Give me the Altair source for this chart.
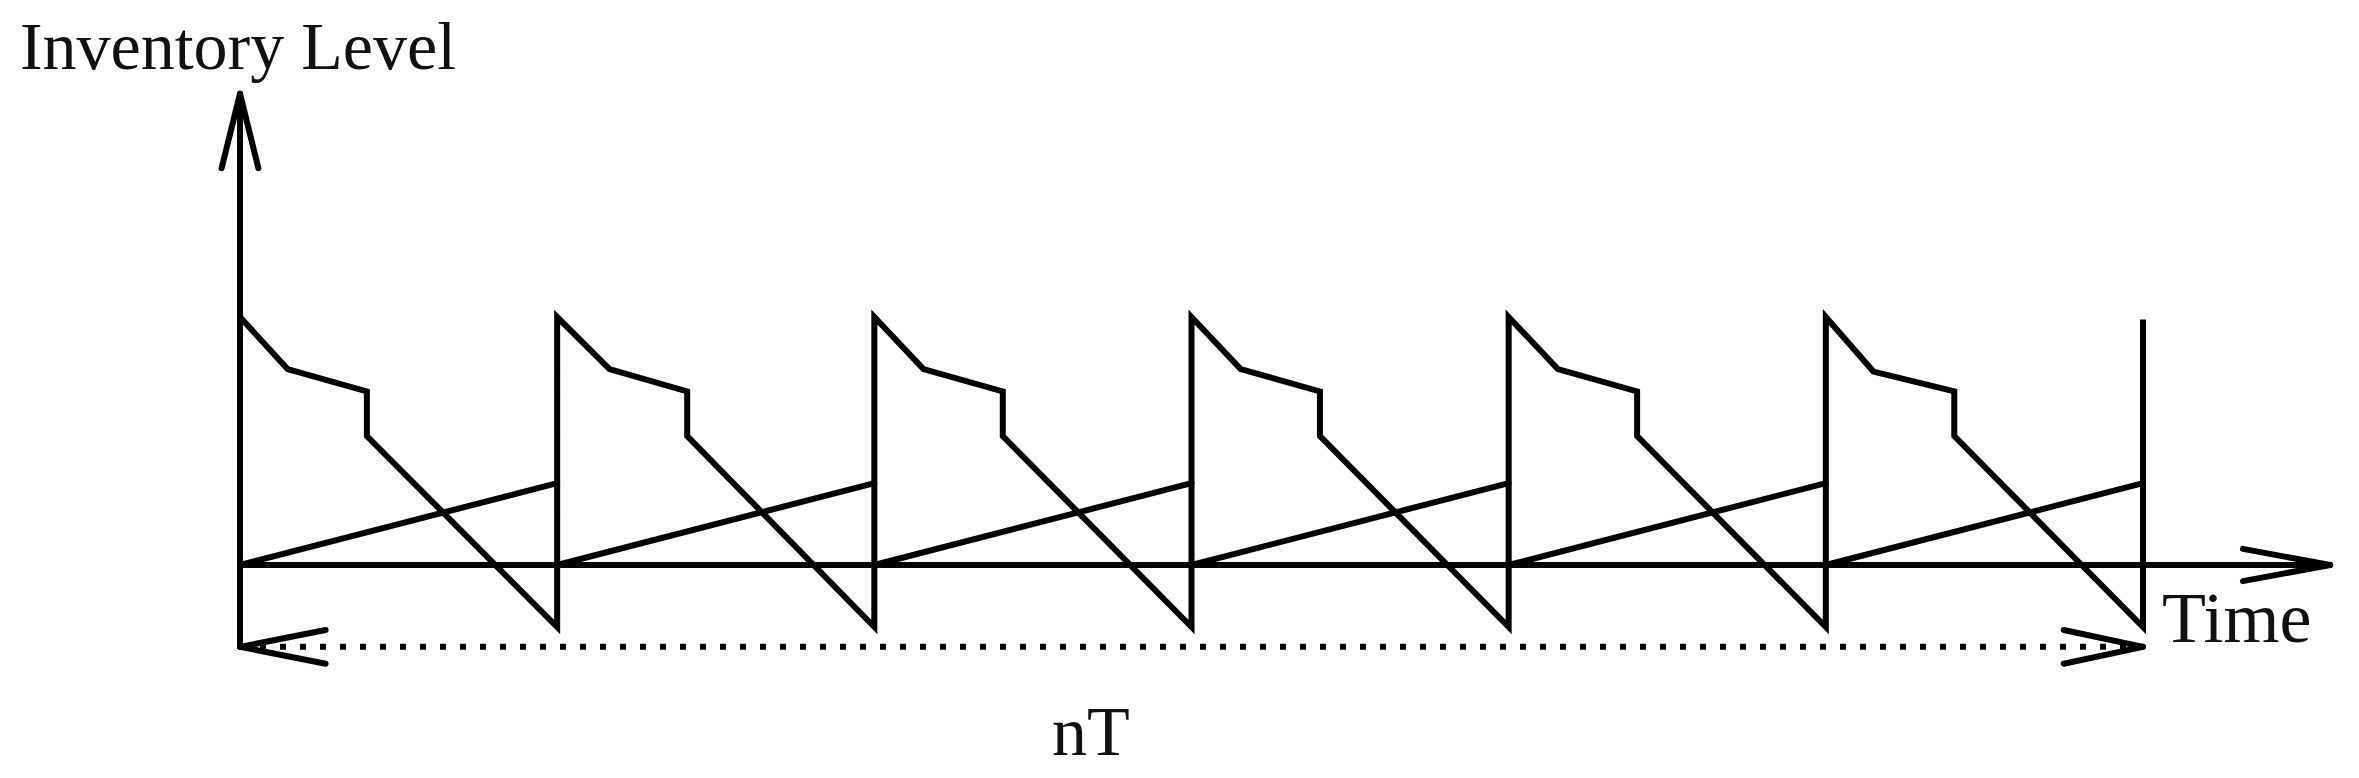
import altair as alt
import pandas as pd

# ---- data (time in cycles T, inventory level in relative units; order quantity peak = 100)
saw_time = [0.0, 0.15, 0.40, 0.40, 1.0,
            1.0, 1.165, 1.41, 1.41, 2.0,
            2.0, 2.155, 2.405, 2.405, 3.0,
            3.0, 3.155, 3.405, 3.405, 4.0,
            4.0, 4.155, 4.405, 4.405, 5.0,
            5.0, 5.15, 5.405, 5.405, 6.0,
            6.0]
saw_level = [100, 79, 70, 52, -25,
             100, 79, 70, 52, -25,
             100, 79, 70, 52, -25,
             100, 79, 70, 52, -25,
             100, 79, 70, 52, -25,
             100, 78, 70, 52, -25,
             99]

ramp_start = [0, 1, 2, 3, 4, 5]
ramp_end = [1, 2, 3, 4, 5, 6]
ramp_start_level = [0, 0, 0, 0, 0, 0]
ramp_end_level = [33, 33, 33, 33, 33, 33]

# axes drawn as arrows (start/end in data units)
axis_x = [0.0, 0.0]
axis_y = [-33.0, 0.0]
axis_x2 = [0.0, 6.59]
axis_y2 = [190.0, 0.0]

# open arrowheads: tip and the two barbs
head_tip_x = [0.0, 0.0, 6.59, 6.59]
head_tip_y = [190.0, 190.0, 0.0, 0.0]
head_barb_x = [-0.058, 0.058, 6.315, 6.315]
head_barb_y = [160.0, 160.0, 6.5, -6.5]

# horizon nT: dotted double arrow
span_start, span_end, span_level = 0.0, 6.0, -33.0
span_head_tip_x = [0.0, 0.0, 6.0, 6.0]
span_head_barb_x = [0.27, 0.27, 5.75, 5.75]
span_head_barb_y = [-26.2, -39.8, -26.2, -39.8]

labels = ["Inventory Level", "Time", "nT"]
label_x = [-0.694, 6.06, 2.683]
label_y = [200.0, -31.0, -76.5]
label_size = [68, 72, 70]
label_align = ["left", "left", "center"]

# ---- page geometry -> scale domains
PX_PER_T = (2143 - 240) / 6.0
PX_PER_LEVEL = 2.48
W, H = 2343, 762
xmin = (8 - 240) / PX_PER_T
xmax = xmin + W / PX_PER_T
ymax = (565 - 8) / PX_PER_LEVEL
ymin = ymax - H / PX_PER_LEVEL

xs = alt.Scale(domain=[xmin, xmax], nice=False, zero=False)
ys = alt.Scale(domain=[ymin, ymax], nice=False, zero=False)

saw = pd.DataFrame({"t": saw_time, "level": saw_level, "i": range(len(saw_time))})

seg_rows = []
for a, b, la, lb in zip(ramp_start, ramp_end, ramp_start_level, ramp_end_level):
    seg_rows.append((a, la, b, lb))
for a, b, c, d in zip(axis_x, axis_y, axis_x2, axis_y2):
    seg_rows.append((a, b, c, d))
for a, b, c, d in zip(head_tip_x, head_tip_y, head_barb_x, head_barb_y):
    seg_rows.append((a, b, c, d))
for a, c, d in zip(span_head_tip_x, span_head_barb_x, span_head_barb_y):
    seg_rows.append((a, span_level, c, d))
segs = pd.DataFrame(seg_rows, columns=["x", "y", "x2", "y2"])

dotted = pd.DataFrame({"x": [span_start], "y": [span_level], "x2": [span_end], "y2": [span_level]})

text_df = pd.DataFrame({"label": labels, "x": label_x, "y": label_y,
                        "size": label_size, "align": label_align})

X = lambda f: alt.X(f, type="quantitative", scale=xs, axis=None)
Y = lambda f: alt.Y(f, type="quantitative", scale=ys, axis=None)

saw_layer = alt.Chart(saw).mark_line(color="black", strokeWidth=6, strokeJoin="miter").encode(
    x=X("t"), y=Y("level"), order=alt.Order("i:Q")
)

seg_layer = alt.Chart(segs).mark_rule(color="black", strokeWidth=6, strokeCap="round").encode(
    x=X("x"), y=Y("y"), x2="x2", y2="y2"
)

dot_layer = alt.Chart(dotted).mark_rule(color="black", strokeWidth=6, strokeDash=[6, 14], strokeCap="butt").encode(
    x=X("x"), y=Y("y"), x2="x2", y2="y2"
)

def text_layer(align):
    return alt.Chart(text_df[text_df["align"] == align]).mark_text(
        font="Liberation Serif", color="#111111", align=align, baseline="alphabetic"
    ).encode(
        x=X("x"), y=Y("y"), text="label:N",
        size=alt.Size("size:Q", scale=None, legend=None),
    )

chart = alt.layer(
    dot_layer, seg_layer, saw_layer, text_layer("left"), text_layer("center")
).properties(
    width=W, height=H, autosize="none", padding=0, background="white"
).configure_view(stroke=None)

chart.save("out.html", embed_options={"renderer": "svg", "actions": False})
